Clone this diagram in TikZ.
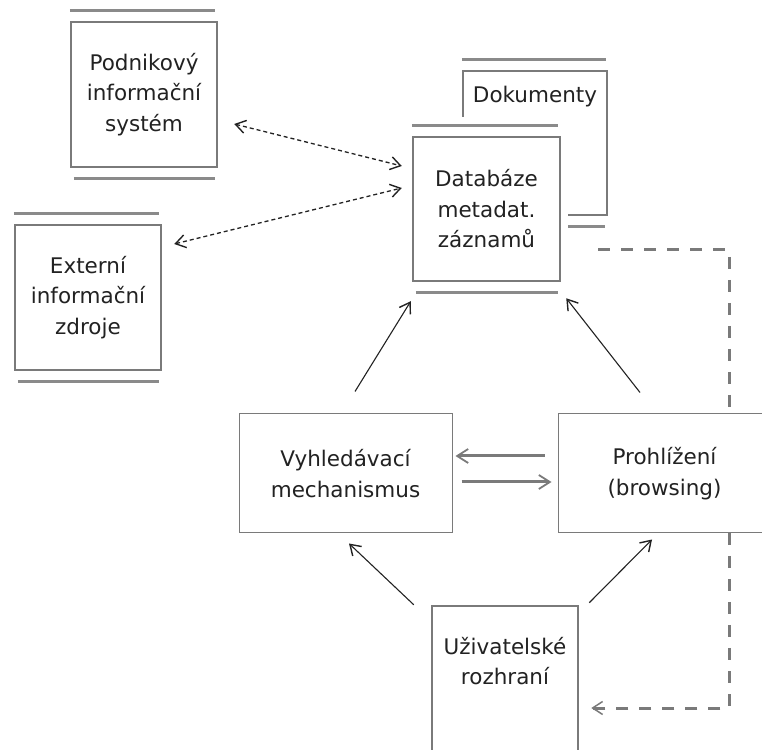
\documentclass[tikz,border=0pt]{standalone}
\usepackage{fontspec}
\setmainfont{DejaVu Sans}
\usetikzlibrary{arrows.meta}

\definecolor{boxgray}{HTML}{7A7A7A}
\definecolor{linegray}{HTML}{8A8A8A}
\definecolor{inkgray}{HTML}{222222}

\begin{document}
\begin{tikzpicture}[
        x=1pt, y=1pt,
        every node/.style={font=\fontsize{21.5}{30.5}\selectfont, text=inkgray, align=center},
        store/.style={draw=boxgray, line width=2.5pt, fill=white, minimum width=146pt, minimum height=145pt},
        module/.style={draw=boxgray, line width=1pt, fill=white, minimum width=213pt, minimum height=119pt},
        storeline/.style={draw=linegray, line width=3pt},
        barb/.tip={Straight Barb[length=10pt, width=13pt, line width=1.4pt]},
        dataflow/.style={-barb, line width=1.1pt, draw=inkgray},
        infoflow/.style={barb-barb, line width=1.3pt, draw=inkgray, dash pattern=on 4pt off 3pt},
        control/.style={-{Straight Barb[length=11pt, width=14pt, line width=1.8pt]}, line width=3pt, draw=boxgray},
        feedback/.style={-{Straight Barb[length=10pt, width=13pt, line width=1.5pt]}, line width=3pt, draw=boxgray, dash pattern=on 12pt off 11pt},
    ]
    \useasboundingbox (0,0) rectangle (762,749);

    % documents behind the metadata database
    \node[store, minimum width=144pt, minimum height=144pt,
        label={[anchor=center, yshift=-27pt]north:Dokumenty}] (dok) at (535,606) {};
    \draw[storeline] ([xshift=0pt, yshift=10pt]dok.north west) -- ([xshift=-2pt, yshift=10pt]dok.north east);
    \draw[storeline] ([xshift=0pt, yshift=-10pt]dok.south west) -- ([xshift=-3pt, yshift=-10pt]dok.south east);
    \fill[white] (401,632) rectangle (568,440);

    % data stores
    \node[store, minimum width=147pt, minimum height=144pt] (db) at (486.5,540) {Databáze\\metadat.\\záznamů};
    \node[store] (pis) at (144,654.5) {Podnikový\\informační\\systém};
    \node[store] (eis) at (88,451.5) {Externí\\informační\\zdroje};
    \foreach \n in {db,pis,eis} {
        \draw[storeline] ([xshift=0pt, yshift=10pt]\n.north west) -- ([xshift=-3pt, yshift=10pt]\n.north east);
        \draw[storeline] ([xshift=4pt, yshift=-10pt]\n.south west) -- ([xshift=-3pt, yshift=-10pt]\n.south east);
    }

    % modules
    \node[module] (vyh) at (345.5,275.5) {Vyhledávací\\mechanismus};
    \node[store, minimum height=146pt] (uzi) at (505,70) {Uživatelské\\rozhraní\\[6pt]};

    % feedback from the database to the user interface
    \draw[feedback] ([xshift=37pt, yshift=-41pt]db.east) -- ([xshift=168pt, yshift=-41pt]db.east)
        |- ([xshift=12pt, yshift=-29pt]uzi.east);
    \node[module] (pro) at (664.5,275.5) {Prohlížení\\(browsing)};

    % exchange with external systems
    \draw[infoflow] ([xshift=16pt, yshift=-29.5pt]pis.east) -- ([xshift=-10pt, yshift=43pt]db.west);
    \draw[infoflow] ([xshift=12pt, yshift=53.5pt]eis.east) -- ([xshift=-10pt, yshift=21pt]db.west);

    % access to the database
    \draw[dataflow] ([xshift=9.5pt, yshift=22pt]vyh.north) -- ([xshift=-1pt, yshift=-19pt]db.south west);
    \draw[dataflow] ([xshift=-24.5pt, yshift=21pt]pro.north) -- ([xshift=5pt, yshift=-16pt]db.south east);
    \draw[dataflow] ([xshift=-17pt]uzi.north west) -- ([xshift=3.5pt, yshift=-10pt]vyh.south);
    \draw[dataflow] ([xshift=10pt, yshift=2pt]uzi.north east) -- ([xshift=-12.5pt, yshift=-6pt]pro.south);

    % search <-> browse
    \draw[control] ([xshift=-13pt, yshift=17.5pt]pro.west) -- ([xshift=3pt, yshift=17.5pt]vyh.east);
    \draw[control] ([xshift=9pt, yshift=-8.5pt]vyh.east) -- ([xshift=-6pt, yshift=-8.5pt]pro.west);
\end{tikzpicture}
\end{document}
